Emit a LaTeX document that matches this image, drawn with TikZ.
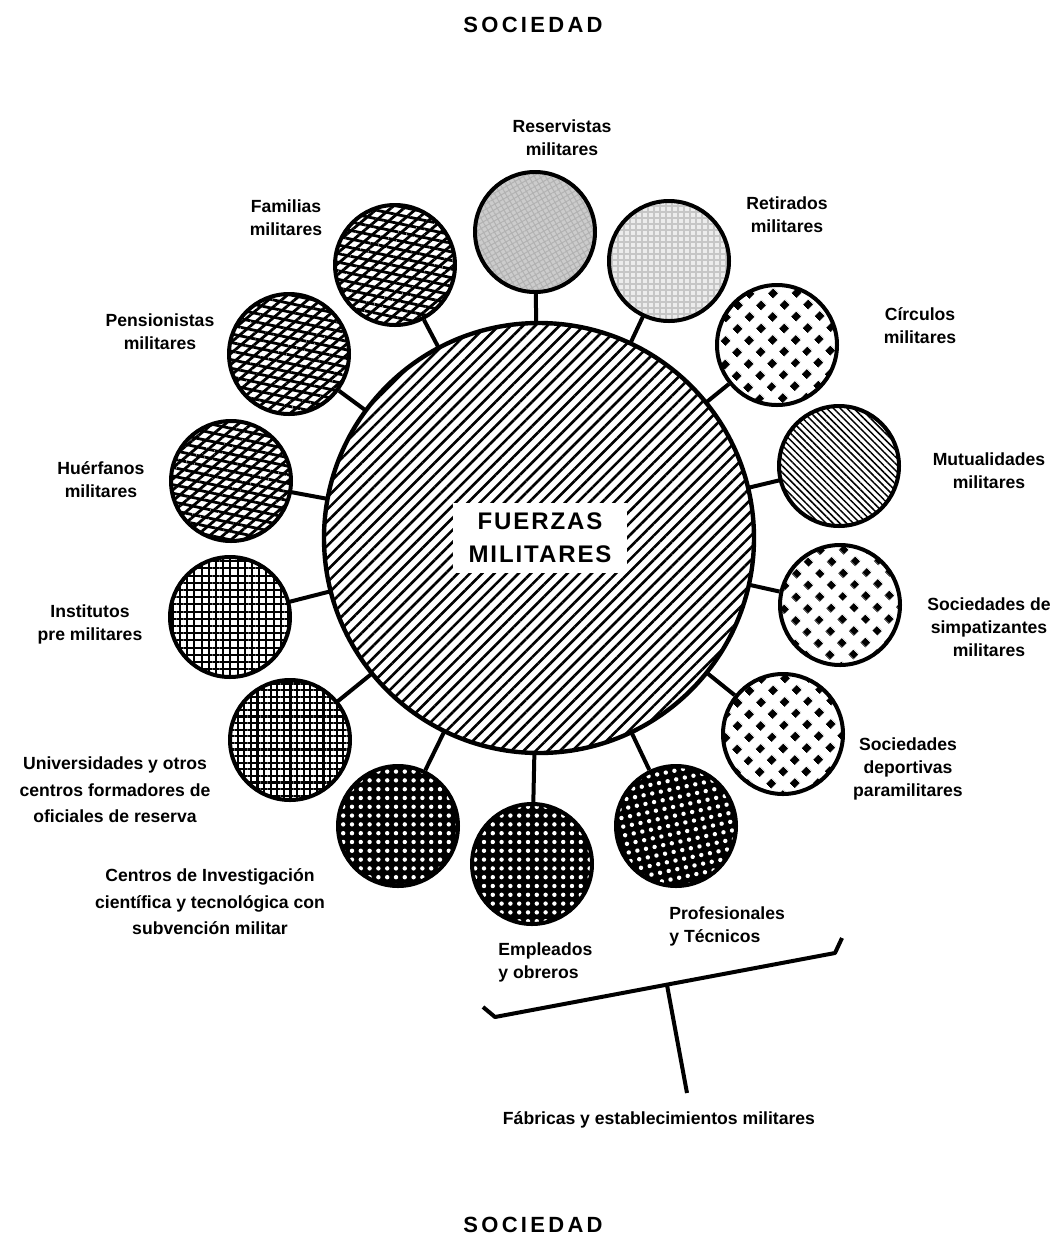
\documentclass[tikz,border=0pt]{standalone}
\usepackage{fontspec}
\setmainfont{Liberation Sans}
\newfontfamily\widefont{Liberation Sans}[LetterSpace=15]
\newfontfamily\midfont{Liberation Sans}[LetterSpace=8]
\usetikzlibrary{patterns.meta}

\pgfdeclarepattern{
  name=diamonds,
  bottom left={\pgfpoint{0pt}{0pt}},
  top right={\pgfpoint{8.25pt}{8.25pt}},
  tile size={\pgfpoint{8.25pt}{8.25pt}},
  tile transformation={\pgftransformrotate{45}},
  code={\pgfpathrectangle{\pgfpoint{2.35pt}{2.35pt}}{\pgfpoint{3.55pt}{3.55pt}}\pgfusepath{fill}}
}

\tikzset{
  sat/.style={circle, draw, line width=2pt, minimum size=60pt, inner sep=0pt},
  lab/.style={font=\bfseries\fontsize{8.8}{11.5}\selectfont, align=center, inner sep=1pt},
  labwide/.style={font=\bfseries\fontsize{8.8}{13.2}\selectfont, align=center, inner sep=1pt},
  conn/.style={line width=2pt},
  pcross/.style={preaction={pattern={Lines[angle=40,distance=4.2pt,line width=1.4pt]}},
                 pattern={Lines[angle=-12,distance=4.2pt,line width=1.4pt]}},
  pgrid/.style={pattern={Hatch[angle=0,distance=3.6pt,line width=1pt]}},
  pgridd/.style={pattern={Hatch[angle=0,distance=3.3pt,line width=1.1pt]}},
  pdark/.style={preaction={fill=black}, pattern={Dots[radius=1.1pt,distance=4.4pt,angle=0]}, pattern color=white},
  pdarkr/.style={preaction={fill=black}, pattern={Dots[radius=1.1pt,distance=4.4pt,angle=12]}, pattern color=white},
  pdiam/.style={pattern=diamonds},
  pmut/.style={pattern={Lines[angle=-45,distance=2.4pt,line width=0.75pt]}},
  pcentral/.style={pattern={Lines[angle=45,distance=4.3pt,line width=1.3pt]}},
  pres/.style={preaction={fill=gray!40}, pattern={Hatch[angle=30,distance=2.4pt,line width=0.5pt]}, pattern color=gray!60},
  pret/.style={preaction={fill=gray!15}, pattern={Hatch[angle=0,distance=3pt,line width=0.6pt]}, pattern color=gray!45},
}

\begin{document}
\begin{tikzpicture}[x=0.5pt, y=-0.5pt]
\useasboundingbox (0,0) rectangle (1057,1238);

% central circle
\node[circle, draw, line width=2.2pt, minimum size=215pt, inner sep=0pt, pcentral] (fm) at (539,538) {};
\node[fill=white, inner xsep=8pt, inner ysep=5pt, align=center,
      font=\midfont\bfseries\fontsize{12}{16.5}\selectfont] (fmtxt) at (540,538) {FUERZAS\\MILITARES};

% satellites
\node[sat, pres]    (res) at (535,232) {};
\node[sat, pret]    (ret) at (669,261) {};
\node[sat, pdiam]   (cir) at (777,345) {};
\node[sat, pmut]    (mut) at (839,466) {};
\node[sat, pdiam]   (sim) at (840,605) {};
\node[sat, pdiam]   (dep) at (783,734) {};
\node[sat, pdarkr]  (pro) at (676,826) {};
\node[sat, pdark]   (emp) at (532,864) {};
\node[sat, pdark]   (cen) at (398,826) {};
\node[sat, pgridd]  (uni) at (290,740) {};
\node[sat, pgrid]   (ins) at (230,617) {};
\node[sat, pcross]  (hue) at (231,481) {};
\node[sat, pcross]  (pen) at (289,354) {};
\node[sat, pcross]  (fam) at (395,265) {};

% connectors
\foreach \s in {res,ret,cir,mut,sim,dep,pro,emp,cen,uni,ins,hue,pen,fam}
  \draw[conn] (\s) -- (fm);

% labels
\node[font=\widefont\bfseries\fontsize{11}{13}\selectfont] (soc1) at (533,25) {SOCIEDAD};
\node[font=\widefont\bfseries\fontsize{11}{13}\selectfont] (soc2) at (533,1225) {SOCIEDAD};

\node[lab] (lres) at (562,138) {Reservistas\\militares};
\node[lab] (lret) at (787,215) {Retirados\\militares};
\node[lab] (lfam) at (286,218) {Familias\\militares};
\node[lab] (lpen) at (160,332) {Pensionistas\\militares};
\node[lab] (lhue) at (101,480) {Huérfanos\\militares};
\node[lab] (lins) at (90,624) {Institutos\\pre militares};
\node[labwide] (luni) at (115,790) {Universidades y otros\\centros formadores de\\oficiales de reserva};
\node[labwide] (lcen) at (210,902) {Centros de Investigación\\científica y tecnológica con\\subvención militar};
\node[lab, align=left, anchor=west] (lemp) at (496,962) {Empleados\\y obreros};
\node[lab, align=left, anchor=west] (lpro) at (667,926) {Profesionales\\y Técnicos};
\node[lab] (lcir) at (920,326) {Círculos\\militares};
\node[lab] (lmut) at (989,471) {Mutualidades\\militares};
\node[lab] (lsim) at (989,627) {Sociedades de\\simpatizantes\\militares};
\node[lab] (ldep) at (908,769) {Sociedades\\deportivas\\paramilitares};
\node[lab] (lfab) at (659,1120) {Fábricas y establecimientos militares};

% bracket
\coordinate (bl1) at (483,1007);
\coordinate (bl2) at (495,1017);
\coordinate (br2) at (835,953);
\coordinate (br1) at (842,938);
\coordinate (st1) at (667,985);
\coordinate (st2) at (687,1093);
\draw[line width=2pt, line join=round] (bl1) -- (bl2) -- (br2) -- (br1);
\draw[line width=2pt] (st1) -- (st2);
\end{tikzpicture}
\end{document}
